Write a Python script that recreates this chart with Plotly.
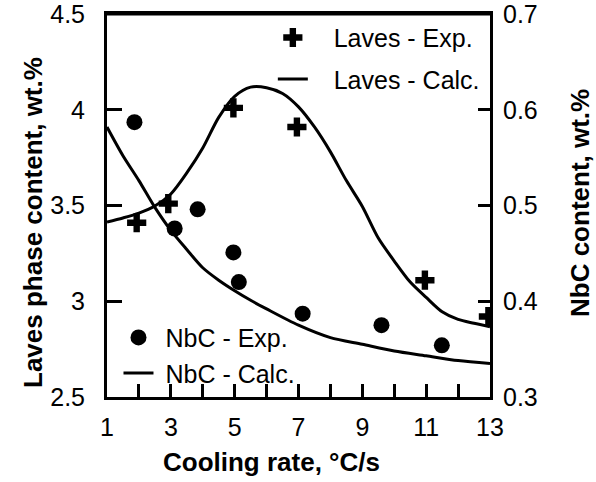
import plotly.graph_objects as go

# ---- data ----
x_laves_exp = [1.93, 2.92, 4.96, 6.95, 10.96, 12.95]
laves_exp = [3.41, 3.51, 4.01, 3.91, 3.11, 2.92]

x_laves_calc = [1, 1.5, 2, 2.5, 3, 3.5, 4, 4.5, 5, 5.5, 6, 6.5, 7, 7.5, 8,
                8.5, 9, 9.5, 10, 10.5, 11, 11.5, 12, 12.5, 13]
laves_calc = [3.414, 3.435, 3.46, 3.497, 3.56, 3.67, 3.80, 3.96, 4.07, 4.118,
              4.115, 4.085, 4.015, 3.91, 3.78, 3.63, 3.495, 3.33, 3.21, 3.10,
              3.02, 2.945, 2.905, 2.885, 2.867]

x_nbc_exp = [1.86, 3.12, 3.84, 4.96, 5.13, 7.13, 9.6, 11.49]
nbc_exp = [0.587, 0.476, 0.496, 0.451, 0.420, 0.387, 0.375, 0.354]

x_nbc_calc = [1, 1.5, 2, 2.5, 3, 3.5, 4, 4.5, 5, 5.5, 6, 7, 8, 9, 10, 11, 12, 13]
nbc_calc = [0.582, 0.552, 0.526, 0.498, 0.474, 0.454, 0.435, 0.422, 0.411,
            0.401, 0.392, 0.375, 0.362, 0.355, 0.348, 0.343, 0.338, 0.335]

x_ticks = list(range(1, 14))
x_ticktext = [str(v) if v % 2 == 1 else "" for v in x_ticks]
yl_ticks = [2.5, 3, 3.5, 4, 4.5]
yl_ticktext = ["2.5", "3", "3.5", "4", "4.5"]
yr_ticks = [0.3, 0.4, 0.5, 0.6, 0.7]
yr_ticktext = ["0.3", "0.4", "0.5", "0.6", "0.7"]

FONT = "Liberation Sans, Arial, Helvetica, sans-serif"
NB = "\u00a0"

fig = go.Figure()
fig.add_trace(go.Scatter(
    x=x_laves_exp, y=laves_exp, mode="markers", name=NB * 3 + "Laves - Exp.",
    marker=dict(symbol="cross", size=16, color="black"),
    legend="legend", legendgroup="a", yaxis="y"))
fig.add_trace(go.Scatter(
    x=x_laves_calc, y=laves_calc, mode="lines", name=NB * 3 + "Laves - Calc.",
    line=dict(color="black", width=3, shape="spline", smoothing=0.8),
    legend="legend", legendgroup="b", yaxis="y"))
fig.add_trace(go.Scatter(
    x=x_nbc_exp, y=nbc_exp, mode="markers", name=NB + "NbC - Exp.",
    marker=dict(symbol="circle", size=16, color="black"),
    legend="legend2", legendgroup="c", yaxis="y2"))
fig.add_trace(go.Scatter(
    x=x_nbc_calc, y=nbc_calc, mode="lines", name=NB + "NbC - Calc.",
    line=dict(color="black", width=3, shape="spline", smoothing=0.8),
    legend="legend2", legendgroup="d", yaxis="y2"))

axis_common = dict(showgrid=False, zeroline=False, showline=True, linecolor="black",
                   linewidth=3, ticks="inside", tickcolor="black", tickwidth=3,
                   ticklabeloverflow="allow", automargin=False,
                   tickfont=dict(family=FONT, size=25, color="black"))

fig.update_layout(
    width=596, height=482,
    margin=dict(l=107, r=106, t=14, b=85, autoexpand=False),
    paper_bgcolor="white", plot_bgcolor="white",
    font=dict(family=FONT, size=25, color="black"),
    xaxis=dict(range=[1, 13], tickvals=x_ticks, ticktext=x_ticktext, ticklen=13,
               mirror=True, ticklabelstandoff=6, **axis_common),
    yaxis=dict(range=[2.5, 4.5], tickvals=yl_ticks, ticktext=yl_ticktext, ticklen=15,
               ticklabelstandoff=14, **axis_common),
    yaxis2=dict(range=[0.3, 0.7], tickvals=yr_ticks, ticktext=yr_ticktext, ticklen=12,
                overlaying="y", side="right", ticklabelstandoff=5, **axis_common),
    legend=dict(x=0.433, y=0.998, xanchor="left", yanchor="top",
                bgcolor="rgba(0,0,0,0)", tracegroupgap=6,
                font=dict(family=FONT, size=25, color="black")),
    legend2=dict(x=0.030, y=0.215, xanchor="left", yanchor="top",
                 bgcolor="rgba(0,0,0,0)", tracegroupgap=0,
                 font=dict(family=FONT, size=25, color="black")),
    showlegend=True,
)

# top frame line of the plot box
fig.add_shape(type="line", xref="paper", yref="paper", x0=0, x1=1, y0=1, y1=1,
              line=dict(color="black", width=3))

title_font = dict(family=FONT, size=26, color="black", weight="bold")
fig.add_annotation(text="Cooling rate, °C/s", xref="paper", yref="paper",
                   x=(271 - 107) / 383, y=-(462 - 397) / 383,
                   xanchor="center", yanchor="middle", showarrow=False, font=title_font)
fig.add_annotation(text="Laves phase content, wt.%", xref="paper", yref="paper",
                   x=-(107 - 33) / 383, y=1 - (223 - 14) / 383, textangle=-90,
                   xanchor="center", yanchor="middle", showarrow=False, font=title_font)
fig.add_annotation(text="NbC content, wt.%", xref="paper", yref="paper",
                   x=1 + (580 - 490) / 383, y=1 - (203 - 14) / 383, textangle=-90,
                   xanchor="center", yanchor="middle", showarrow=False, font=title_font)

fig.write_html("out.html")
